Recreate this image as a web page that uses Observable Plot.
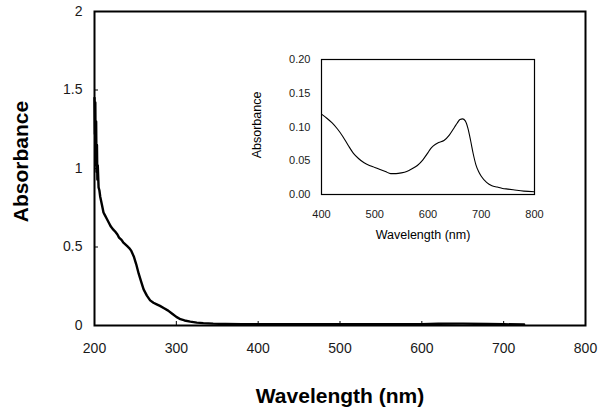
<!DOCTYPE html>
<html><head><meta charset="utf-8">
<script src="https://cdn.jsdelivr.net/npm/d3@7"></script>
<script src="https://cdn.jsdelivr.net/npm/@observablehq/plot@0.6"></script>
<style>
body{margin:0;background:#fff;}
#wrap{position:relative;width:603px;height:411px;overflow:hidden;}
#main{position:absolute;left:0;top:0;}
#inset{position:absolute;left:240px;top:40px;}
</style></head><body>
<div id="wrap"><div id="main"></div><div id="inset"></div></div>
<script>
// Main spectrum (200–800 nm)
const mainWavelength = [200,200.5,201,201.5,202,202.5,203,203.5,204,205,206,207,209,211,213,215,218,220,223,225,228,230,233,235,238,240,243,245,248,251,254,257,260,264,268,272,276,280,285,290,295,300,305,310,317,325,333,345,360,380,400,450,500,550,600,620,650,680,700,725];
const mainAbsorbance = [1.45,1.22,1.42,1.02,1.30,0.98,1.15,0.93,1.02,0.88,0.86,0.82,0.77,0.72,0.70,0.68,0.65,0.63,0.61,0.60,0.58,0.56,0.545,0.53,0.515,0.505,0.49,0.475,0.44,0.39,0.33,0.28,0.23,0.19,0.16,0.145,0.135,0.125,0.11,0.095,0.075,0.055,0.04,0.032,0.025,0.018,0.015,0.012,0.010,0.009,0.009,0.008,0.008,0.008,0.009,0.011,0.012,0.010,0.008,0.006];

// Inset spectrum (400–800 nm)
const insetWavelength = [400,410,420,430,440,450,460,470,480,490,500,510,520,530,540,550,560,570,580,590,600,605,610,620,630,640,650,655,660,665,670,675,680,685,690,695,700,710,720,730,740,750,760,780,800];
const insetAbsorbance = [0.119,0.113,0.106,0.097,0.086,0.073,0.061,0.053,0.047,0.043,0.040,0.037,0.034,0.031,0.031,0.032,0.034,0.038,0.043,0.051,0.062,0.068,0.072,0.077,0.080,0.088,0.100,0.106,0.111,0.112,0.109,0.098,0.080,0.060,0.044,0.034,0.027,0.018,0.013,0.011,0.009,0.008,0.007,0.005,0.004];

const mainXTicks = [200,300,400,500,600,700,800];
const mainYTicks = [0,0.5,1,1.5,2];
const mainYTickLabels = ["0","0.5","1","1.5","2"];
const insetXTicks = [400,500,600,700,800];
const insetYTicks = [0,0.05,0.1,0.15,0.2];
const insetYTickLabels = ["0.00","0.05","0.10","0.15","0.20"];

const mainTitleX = "Wavelength (nm)";
const mainTitleY = "Absorbance";
const insetTitleX = "Wavelength (nm)";
const insetTitleY = "Absorbance";

const mainData = mainWavelength.map((w, i) => ({w, a: mainAbsorbance[i]}));
const insetData = insetWavelength.map((w, i) => ({w, a: insetAbsorbance[i]}));
const font = "'Liberation Sans', Arial, Helvetica, sans-serif";

const main = Plot.plot({
  width: 603, height: 411,
  marginLeft: 94, marginRight: 18, marginTop: 11, marginBottom: 86,
  style: {fontFamily: font, background: "transparent", color: "#1a1a1a", overflow: "visible"},
  x: {domain: [200, 800]},
  y: {domain: [0, 2]},
  marks: [
    Plot.line(mainData, {x: "w", y: "a", stroke: "#000", strokeWidth: 2.4, strokeLinejoin: "round"}),
    // inward tick marks
    Plot.axisX({ticks: mainXTicks, tickSize: 4, dy: -4, tickFormat: () => "", label: null, stroke: "#000"}),
    Plot.axisY({ticks: mainYTicks, tickSize: 4, dx: 4, tickFormat: () => "", label: null, stroke: "#000"}),
    Plot.frame({stroke: "#000", strokeWidth: 2}),
    Plot.axisX({ticks: mainXTicks, tickSize: 0, tickPadding: 18, fontSize: 14, label: null}),
    Plot.axisY({ticks: mainYTicks, tickFormat: (d, i) => mainYTickLabels[i], tickSize: 0, tickPadding: 12, fontSize: 14, label: null}),
    Plot.text([mainTitleX], {text: d => d, frameAnchor: "bottom", dy: 71, lineAnchor: "middle", textAnchor: "middle", fontSize: 21, fontWeight: "bold", fill: "#000"}),
    Plot.text([mainTitleY], {text: d => d, frameAnchor: "left", rotate: -90, dx: -73, dy: -7, lineAnchor: "middle", textAnchor: "middle", fontSize: 21, fontWeight: "bold", fill: "#000"})
  ]
});
document.getElementById("main").appendChild(main);

const inset = Plot.plot({
  width: 310, height: 210,
  marginLeft: 81, marginRight: 16, marginTop: 19, marginBottom: 56,
  style: {fontFamily: font, background: "white", color: "#1a1a1a", overflow: "visible"},
  x: {domain: [400, 800]},
  y: {domain: [0, 0.2]},
  marks: [
    Plot.line(insetData, {x: "w", y: "a", stroke: "#000", strokeWidth: 1.1, curve: "monotone-x"}),
    Plot.frame({stroke: "#000", strokeWidth: 1.2}),
    Plot.axisX({ticks: insetXTicks, tickSize: 0, tickPadding: 16, fontSize: 11, label: null}),
    Plot.axisY({ticks: insetYTicks, tickFormat: (d, i) => insetYTickLabels[i], tickSize: 0, tickPadding: 11, fontSize: 11, label: null}),
    Plot.text([insetTitleX], {text: d => d, frameAnchor: "bottom", dx: -5, dy: 40, lineAnchor: "middle", textAnchor: "middle", fontSize: 12.5, fill: "#000"}),
    Plot.text([insetTitleY], {text: d => d, frameAnchor: "left", rotate: -90, dx: -65, dy: -2, lineAnchor: "middle", textAnchor: "middle", fontSize: 12.5, fill: "#000"})
  ]
});
document.getElementById("inset").appendChild(inset);
</script>
</body></html>
